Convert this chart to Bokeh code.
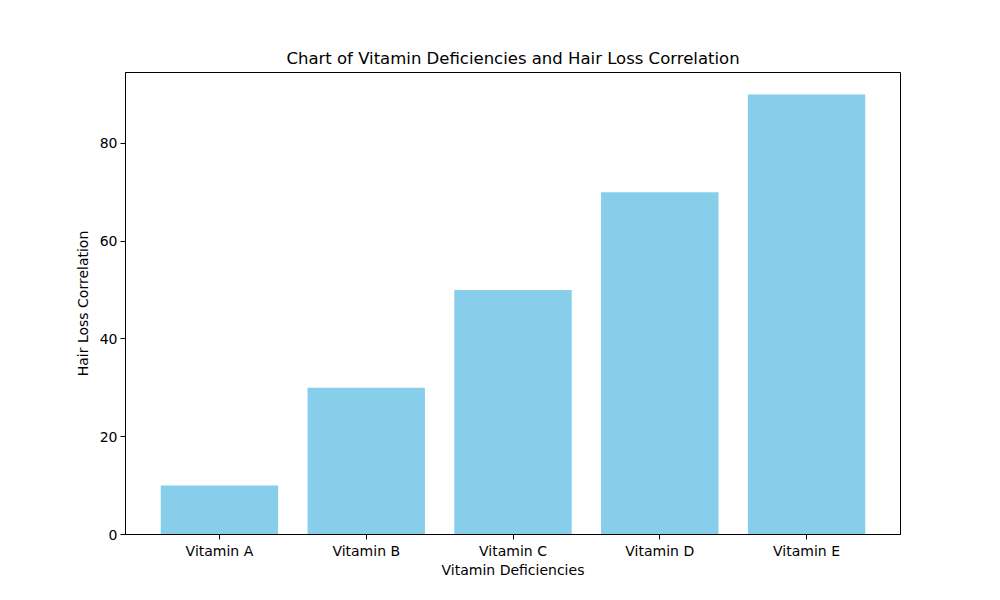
from bokeh.plotting import figure
from bokeh.models import Range1d, FixedTicker
from bokeh.embed import file_html
from bokeh.resources import INLINE

categories = ["Vitamin A", "Vitamin B", "Vitamin C", "Vitamin D", "Vitamin E"]
correlation = [10, 30, 50, 70, 90]
y_ticks = [0, 20, 40, 60, 80]

xs = list(range(len(categories)))

p = figure(width=1000, height=600, output_backend="svg", toolbar_location=None,
           x_range=Range1d(-0.64, 4.64), y_range=Range1d(0, 94.5),
           min_border_left=125, min_border_right=100, min_border_top=72, min_border_bottom=66,
           title="Chart of Vitamin Deficiencies and Hair Loss Correlation")

p.vbar(x=xs, top=correlation, width=0.8, bottom=0, fill_color="#87CEEB", line_color=None)

p.title.align = "center"
p.title.text_font = "DejaVu Sans"
p.title.text_font_size = "16.5px"
p.title.text_font_style = "normal"
p.title.text_color = "black"

p.xgrid.visible = False
p.ygrid.visible = False
p.outline_line_color = "black"
p.outline_line_width = 1
p.background_fill_color = "white"
p.border_fill_color = "white"

p.xaxis.ticker = FixedTicker(ticks=xs)
p.xaxis.major_label_overrides = {i: c for i, c in zip(xs, categories)}
p.yaxis.ticker = FixedTicker(ticks=y_ticks)
p.xaxis.axis_label = "Vitamin Deficiencies"
p.yaxis.axis_label = "Hair Loss Correlation"

for ax in (p.xaxis[0], p.yaxis[0]):
    ax.axis_line_color = "black"
    ax.major_tick_line_color = "black"
    ax.major_tick_out = 5
    ax.major_tick_in = 0
    ax.minor_tick_line_color = None
    ax.major_label_text_font = "DejaVu Sans"
    ax.major_label_text_font_size = "14px"
    ax.major_label_text_color = "black"
    ax.axis_label_text_font = "DejaVu Sans"
    ax.axis_label_text_font_size = "14px"
    ax.axis_label_text_font_style = "normal"
    ax.axis_label_text_color = "black"
    ax.major_label_standoff = 3

p.xaxis[0].axis_label_standoff = 0
p.yaxis[0].axis_label_standoff = 6

open("out.html", "w").write(file_html(p, INLINE))
